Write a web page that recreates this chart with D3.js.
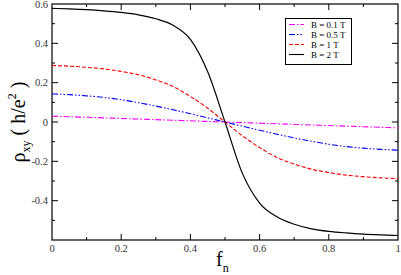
<!DOCTYPE html>
<html>
<head>
<meta charset="utf-8">
<script src="https://cdn.jsdelivr.net/npm/d3@7"></script>
<style>
  html, body { margin: 0; padding: 0; background: #fff; }
  svg { display: block; }
</style>
</head>
<body>
<svg id="chart" width="401" height="275" font-family="'Liberation Serif', 'Times New Roman', 'DejaVu Serif', serif"></svg>
<script>
// filling fraction f_n (x values)
var fn = [0, 0.05, 0.1, 0.15, 0.2, 0.25, 0.3, 0.35, 0.4, 0.45, 0.5,
          0.55, 0.6, 0.65, 0.7, 0.75, 0.8, 0.85, 0.9, 0.95, 1];

// rho_xy, one array per field
var rhoB01 = [0.029, 0.027, 0.024, 0.021, 0.018, 0.015, 0.012, 0.009, 0.006, 0.003, 0,
              -0.003, -0.006, -0.009, -0.012, -0.015, -0.018, -0.021, -0.024, -0.027, -0.030];
var rhoB05 = [0.143, 0.139, 0.133, 0.125, 0.113, 0.098, 0.081, 0.062, 0.042, 0.021, 0,
              -0.021, -0.042, -0.062, -0.081, -0.098, -0.113, -0.125, -0.133, -0.139, -0.143];
var rhoB1 = [0.287, 0.284, 0.278, 0.270, 0.257, 0.240, 0.214, 0.180, 0.130, 0.070, 0,
             -0.070, -0.130, -0.180, -0.214, -0.240, -0.257, -0.270, -0.278, -0.284, -0.288];
var rhoB2 = [0.578, 0.575, 0.571, 0.565, 0.557, 0.545, 0.525, 0.492, 0.420, 0.255, 0,
             -0.260, -0.412, -0.482, -0.520, -0.543, -0.556, -0.564, -0.570, -0.574, -0.577];

var seriesNames = ["B = 0.1 T", "B = 0.5 T", "B = 1 T", "B = 2 T"];
var seriesValues = [rhoB01, rhoB05, rhoB1, rhoB2];
var seriesColors = ["#ff00ff", "#0000ff", "#ff0000", "#000000"];
var seriesDash = ["6,2,1.5,2", "6,2,1.5,2,1.5,2", "4,2", null];

var xTicks = [0, 0.2, 0.4, 0.6, 0.8, 1];
var yTicks = [-0.4, -0.2, 0, 0.2, 0.4, 0.6];
var xMinor = [0.1, 0.3, 0.5, 0.7, 0.9];
var yMinor = [-0.5, -0.3, -0.1, 0.1, 0.3, 0.5];

var L = 52, R = 398, T = 4, B = 240;
var svg = d3.select("#chart");

var x = d3.scaleLinear().domain([0, 1]).range([L, R]);
var y = d3.scaleLinear().domain([-0.6, 0.6]).range([B, T]);

var fmt = function(d) { return d === 0 ? "0" : String(+d.toFixed(1)); };

// frame
svg.append("rect")
  .attr("x", L).attr("y", T).attr("width", R - L).attr("height", B - T)
  .attr("fill", "none").attr("stroke", "#000").attr("stroke-width", 1.2);

// ticks (inside, on all four sides)
var tickG = svg.append("g").attr("stroke", "#000").attr("stroke-width", 1);
function vTicks(vals, len) {
  vals.forEach(function(v) {
    tickG.append("line").attr("x1", x(v)).attr("x2", x(v)).attr("y1", B).attr("y2", B - len);
    tickG.append("line").attr("x1", x(v)).attr("x2", x(v)).attr("y1", T).attr("y2", T + len);
  });
}
function hTicks(vals, len) {
  vals.forEach(function(v) {
    tickG.append("line").attr("y1", y(v)).attr("y2", y(v)).attr("x1", L).attr("x2", L + len);
    tickG.append("line").attr("y1", y(v)).attr("y2", y(v)).attr("x1", R).attr("x2", R - len);
  });
}
vTicks(xTicks.slice(1, -1), 6);
vTicks(xMinor, 3);
hTicks(yTicks.filter(function(d) { return d > -0.6 && d < 0.6; }), 6);
hTicks(yMinor, 3);

// tick labels
svg.append("g").selectAll("text").data(xTicks).join("text")
  .attr("x", function(d) { return x(d); })
  .attr("y", 252)
  .attr("text-anchor", "middle")
  .attr("font-size", 10.5)
  .attr("fill", "#333")
  .text(fmt);

svg.append("g").selectAll("text").data(yTicks).join("text")
  .attr("x", L - 4)
  .attr("y", function(d) { return y(d); })
  .attr("dy", "0.35em")
  .attr("text-anchor", "end")
  .attr("font-size", 10.5)
  .attr("fill", "#333")
  .text(fmt);

// curves
var line = d3.line()
  .x(function(d, i) { return x(fn[i]); })
  .y(function(d) { return y(d); })
  .curve(d3.curveMonotoneX);

svg.append("g").selectAll("path").data(seriesValues).join("path")
  .attr("d", line)
  .attr("fill", "none")
  .attr("stroke", function(d, i) { return seriesColors[i]; })
  .attr("stroke-width", function(d, i) { return i === 3 ? 1.2 : 1.1; })
  .attr("stroke-dasharray", function(d, i) { return seriesDash[i]; });

// legend
var lg = svg.append("g");
lg.append("rect")
  .attr("x", 285.5).attr("y", 18.5).attr("width", 66).attr("height", 46)
  .attr("fill", "#fff").attr("stroke", "#000").attr("stroke-width", 1);
var rows = lg.selectAll("g.row").data(seriesNames).join("g")
  .attr("class", "row")
  .attr("transform", function(d, i) { return "translate(0," + (24.5 + i * 10) + ")"; });
rows.append("line")
  .attr("x1", 289).attr("x2", 304).attr("y1", 0).attr("y2", 0)
  .attr("stroke", function(d, i) { return seriesColors[i]; })
  .attr("stroke-width", 1.1)
  .attr("stroke-dasharray", function(d, i) { return seriesDash[i]; });
rows.append("text")
  .attr("x", 311).attr("y", 0).attr("dy", "0.35em")
  .attr("font-size", 9)
  .attr("fill", "#000")
  .text(function(d) { return d; });

// axis titles
var xt = svg.append("text")
  .attr("x", 216).attr("y", 266)
  .attr("font-size", 20).attr("fill", "#000");
xt.append("tspan").text("f");
xt.append("tspan").attr("font-size", 12).attr("dy", 6).text("n");

var yt = svg.append("text")
  .attr("transform", "translate(25," + 122 + ") rotate(-90)")
  .attr("text-anchor", "middle")
  .attr("font-size", 20).attr("fill", "#000");
yt.append("tspan").text("ρ");
yt.append("tspan").attr("font-size", 12).attr("dy", 5).text("xy");
yt.append("tspan").attr("dy", -5).text(" ( h/e");
yt.append("tspan").attr("font-size", 12).attr("dy", -9).text("2");
yt.append("tspan").attr("dy", 9).text(" )");
</script>
</body>
</html>
